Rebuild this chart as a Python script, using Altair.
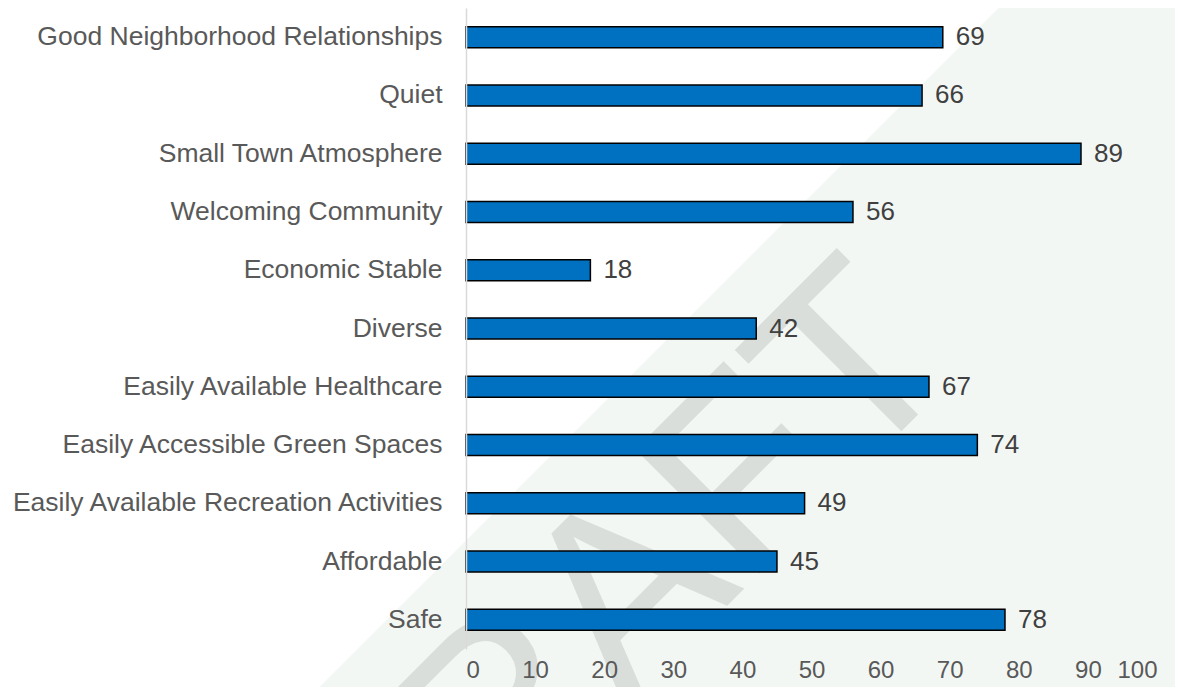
import altair as alt
import pandas as pd

categories = [
    "Good Neighborhood Relationships",
    "Quiet",
    "Small Town Atmosphere",
    "Welcoming Community",
    "Economic Stable",
    "Diverse",
    "Easily Available Healthcare",
    "Easily Accessible Green Spaces",
    "Easily Available Recreation Activities",
    "Affordable",
    "Safe",
]
values = [69, 66, 89, 56, 18, 42, 67, 74, 49, 45, 78]
x_ticks = [0, 10, 20, 30, 40, 50, 60, 70, 80, 90, 100]
watermark = ["DRAFT"]

df = pd.DataFrame({"category": categories, "value": values})
wm = pd.DataFrame({"text": watermark})

FONT = "Liberation Sans"
W, H = 691, 641

# decorative light-green diagonal background
bg = alt.Chart(wm).mark_rect(
    fill=alt.Gradient(
        gradient="linear",
        x1=0, y1=0, x2=1, y2=0.59,
        stops=[
            alt.GradientStop(offset=0, color="#ffffff"),
            alt.GradientStop(offset=0.6314, color="#ffffff"),
            alt.GradientStop(offset=0.6314, color="#f3f7f4"),
            alt.GradientStop(offset=1, color="#f3f7f4"),
        ],
    ),
).encode(
    x=alt.value(-466), x2=alt.value(717),
    y=alt.value(-8), y2=alt.value(690),
)

wm_text = alt.Chart(wm).mark_text(
    font=FONT, fontSize=255, angle=315, align="center", baseline="middle",
    color="#dadedb",
).encode(
    text="text:N",
    x=alt.value(144), y=alt.value(606),
)

y_enc = alt.Y(
    "category:N", sort=categories,
    scale=alt.Scale(paddingInner=0.64, paddingOuter=0.32),
    axis=alt.Axis(
        title=None, ticks=False, domain=True, domainColor="#d9d9d9",
        domainWidth=1.5, labelFont=FONT, labelFontSize=26.5,
        labelColor="#595959", labelPadding=24, labelLimit=600, zindex=1,
    ),
)
x_enc = alt.X(
    "value:Q",
    scale=alt.Scale(domain=[0, 100], nice=False),
    axis=alt.Axis(
        title=None, values=x_ticks, ticks=False, domain=False, grid=False,
        labelFont=FONT, labelFontSize=24,
        labelColor="#595959", labelPadding=9, zindex=1,
    ),
)

bars = alt.Chart(df).mark_bar(
    color="#0070c0", stroke="#000000", strokeWidth=1.5,
).encode(x=x_enc, y=y_enc)

labels = alt.Chart(df).mark_text(
    align="left", baseline="middle", dx=13, font=FONT, fontSize=26,
    color="#404040",
).encode(x="value:Q", y=alt.Y("category:N", sort=categories), text="value:Q")

chart = alt.layer(bg, wm_text, bars, labels).properties(
    width=W, height=H, background="#ffffff",
    autosize=alt.AutoSizeParams(type="none"),
    padding={"left": 458, "top": 0, "right": 18, "bottom": 38},
).configure_view(stroke=None)

chart.save("out.html", embed_options={"renderer": "svg", "actions": False})
